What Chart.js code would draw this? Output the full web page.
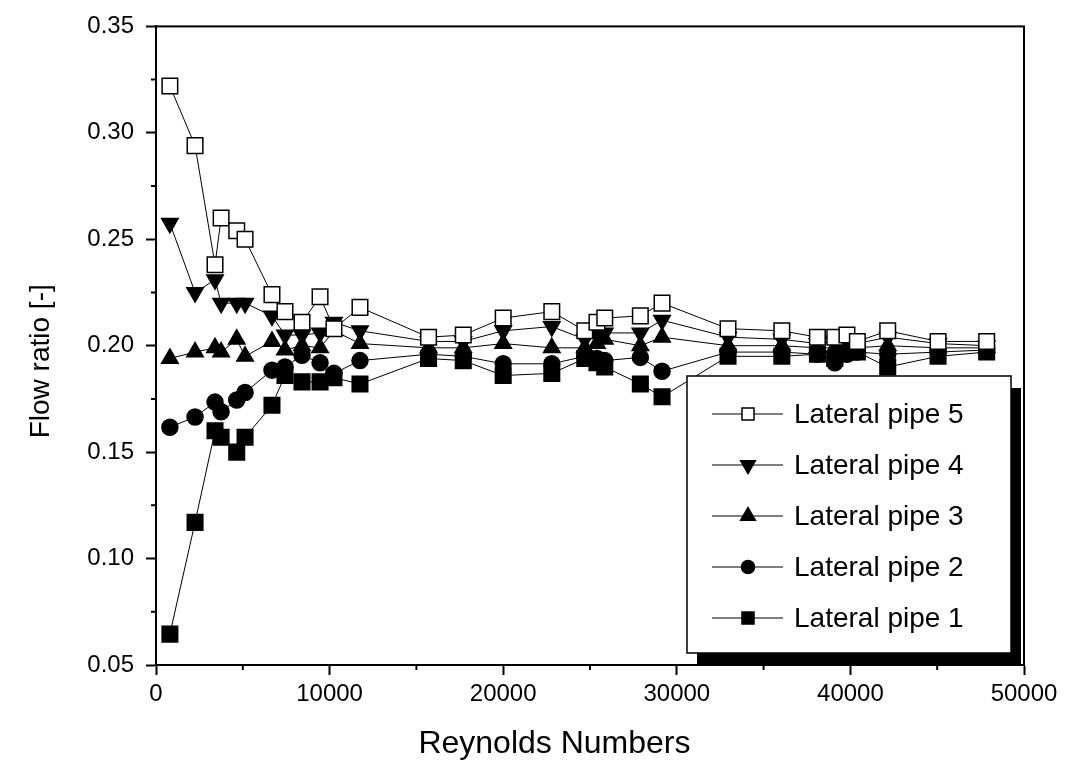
<!DOCTYPE html>
<html>
<head>
<meta charset="utf-8">
<script src="https://cdn.jsdelivr.net/npm/chart.js@4.4.1/dist/chart.umd.min.js"></script>
<style>
  html, body { margin: 0; padding: 0; background: #fff; }
  #wrap { width: 1088px; height: 763px; }
</style>
</head>
<body>
<div id="wrap"><canvas id="flowChart"></canvas></div>
<script>
// Flow ratio of each lateral pipe vs Reynolds number

const reynolds = [800, 2250, 3400, 3750, 4650, 5130, 6680, 7430, 8410, 9450,
  10250, 11750, 15700, 17700, 20000, 22800, 24700, 25400, 25850, 27900,
  29150, 32950, 36050, 38100, 39100, 39800, 40400, 42150, 45050, 47850];

const pipe5 = [0.322, 0.294, 0.238, 0.260, 0.254, 0.250, 0.224, 0.216, 0.211, 0.223,
  0.208, 0.218, 0.204, 0.205, 0.213, 0.216, 0.207, 0.211, 0.213, 0.214,
  0.220, 0.208, 0.207, 0.204, 0.204, 0.205, 0.202, 0.207, 0.202, 0.202];

const pipe4 = [0.2575, 0.225, 0.231, 0.220, 0.220, 0.220, 0.214, 0.205, 0.205, 0.206,
  0.211, 0.207, 0.202, 0.202, 0.207, 0.209, 0.203, 0.205, 0.206, 0.206,
  0.212, 0.204, 0.203, 0.201, 0.202, 0.201, 0.201, 0.204, 0.201, 0.200];

const pipe3 = [0.194, 0.197, 0.199, 0.197, 0.203, 0.195, 0.202, 0.198, 0.200, 0.199,
  0.207, 0.201, 0.199, 0.199, 0.201, 0.199, 0.199, 0.201, 0.203, 0.200,
  0.204, 0.200, 0.200, 0.199, 0.199, 0.199, 0.199, 0.200, 0.199, 0.199];

const pipe2 = [0.1617, 0.1665, 0.1735, 0.169, 0.1745, 0.178, 0.1885, 0.190, 0.1955, 0.192,
  0.187, 0.193, 0.196, 0.195, 0.1915, 0.1915, 0.195, 0.194, 0.193, 0.1945,
  0.188, 0.197, 0.197, 0.196, 0.192, 0.196, 0.197, 0.196, 0.197, 0.198];

const pipe1 = [0.0645, 0.117, 0.160, 0.157, 0.150, 0.157, 0.172, 0.186, 0.183, 0.183,
  0.185, 0.182, 0.194, 0.193, 0.186, 0.187, 0.194, 0.192, 0.190, 0.182,
  0.176, 0.195, 0.195, 0.196, 0.194, 0.197, 0.197, 0.190, 0.195, 0.197];

const seriesNames = ['Lateral pipe 5', 'Lateral pipe 4', 'Lateral pipe 3', 'Lateral pipe 2', 'Lateral pipe 1'];

const xTicks = [0, 10000, 20000, 30000, 40000, 50000];
const xMinorTicks = [5000, 15000, 25000, 35000, 45000];
const yTicks = [0.05, 0.10, 0.15, 0.20, 0.25, 0.30, 0.35];
const yMinorTicks = [0.075, 0.125, 0.175, 0.225, 0.275, 0.325];

const FONT = "'Liberation Sans', Arial, sans-serif";
const NBSP = '\u00a0';

Chart.defaults.font.family = FONT;
Chart.defaults.color = '#000';

function toPoints(values) {
  return reynolds.map((r, i) => ({ x: r, y: values[i] }));
}

function series(label, values, style) {
  return Object.assign({
    label: label,
    data: toPoints(values),
    borderColor: '#000',
    borderWidth: 1,
    backgroundColor: '#000',
    pointBorderColor: '#000',
    pointBorderWidth: 1.5,
    pointHoverRadius: 0,
    showLine: true,
    tension: 0
  }, style);
}

// ============================================================================
// PLUGINS: frame, minor ticks, boxed legend with drop shadow
// ============================================================================

const frameAndMinor = {
  id: 'frameAndMinor',
  afterDraw(chart) {
    const ctx = chart.ctx;
    const a = chart.chartArea;
    const xs = chart.scales.x;
    const ys = chart.scales.y;
    ctx.save();
    ctx.strokeStyle = '#000';
    ctx.lineWidth = 2;
    ctx.strokeRect(a.left, a.top, a.right - a.left, a.bottom - a.top);
    ctx.beginPath();
    xMinorTicks.forEach(v => {
      const px = xs.getPixelForValue(v);
      ctx.moveTo(px, a.bottom);
      ctx.lineTo(px, a.bottom + 5);
    });
    yMinorTicks.forEach(v => {
      const py = ys.getPixelForValue(v);
      ctx.moveTo(a.left - 5, py);
      ctx.lineTo(a.left, py);
    });
    ctx.stroke();
    ctx.restore();
  }
};

const boxLegend = {
  id: 'boxLegend',
  afterDraw(chart) {
    const ctx = chart.ctx;
    const a = chart.chartArea;
    const w = 324, h = 277;
    const x = a.right - 337;
    const y = a.bottom - 289;
    ctx.save();
    ctx.fillStyle = '#000';
    ctx.fillRect(x + 10, y + 12, w, h);
    ctx.fillStyle = '#fff';
    ctx.fillRect(x, y, w, h);
    ctx.strokeStyle = '#000';
    ctx.lineWidth = 1.5;
    ctx.strokeRect(x, y, w, h);

    ctx.font = '28px ' + FONT;
    ctx.textBaseline = 'middle';
    ctx.textAlign = 'left';
    chart.data.datasets.forEach((ds, i) => {
      const cy = y + 38 + i * 51;
      ctx.strokeStyle = '#000';
      ctx.lineWidth = 1;
      ctx.beginPath();
      ctx.moveTo(x + 25, cy);
      ctx.lineTo(x + 96, cy);
      ctx.stroke();
      ctx.fillStyle = ds.pointBackgroundColor || ds.backgroundColor;
      ctx.strokeStyle = '#000';
      ctx.lineWidth = 1.5;
      Chart.helpers.drawPoint(ctx, {
        pointStyle: ds.pointStyle,
        rotation: ds.pointRotation || 0,
        radius: ds.pointStyle === 'circle' ? 6.5 : 8.5,
        borderWidth: 1.5
      }, x + 61, cy);
      ctx.fillStyle = '#000';
      ctx.fillText(ds.label, x + 107, cy + 1);
    });
    ctx.restore();
  }
};

// ============================================================================
// CHART
// ============================================================================

const ctx = document.getElementById('flowChart').getContext('2d');
const flowChart = new Chart(ctx, {
  type: 'line',
  data: {
    datasets: [
      series(seriesNames[0], pipe5, { pointStyle: 'rect', pointRadius: 11, pointBackgroundColor: '#fff', backgroundColor: '#fff' }),
      series(seriesNames[1], pipe4, { pointStyle: 'triangle', pointRotation: 180, pointRadius: 9.5 }),
      series(seriesNames[2], pipe3, { pointStyle: 'triangle', pointRadius: 9.5 }),
      series(seriesNames[3], pipe2, { pointStyle: 'circle', pointRadius: 8 }),
      series(seriesNames[4], pipe1, { pointStyle: 'rect', pointRadius: 11 })
    ]
  },
  options: {
    responsive: true,
    maintainAspectRatio: false,
    animation: false,
    layout: {
      padding: { left: 0, top: 26, right: 64, bottom: 0 }
    },
    plugins: {
      legend: { display: false },
      tooltip: { enabled: false }
    },
    scales: {
      x: {
        type: 'linear',
        min: 0,
        max: 50000,
        afterBuildTicks: s => { s.ticks = xTicks.map(v => ({ value: v })); },
        afterFit: s => { s.height = 98; },
        border: { display: true, color: '#000', width: 2 },
        grid: { drawOnChartArea: false, drawTicks: true, tickLength: 10, tickColor: '#000', tickWidth: 2 },
        ticks: {
          color: '#000',
          padding: 5,
          maxRotation: 0,
          font: { size: 24 },
          callback: v => String(v)
        },
        title: {
          display: true,
          text: 'Reynolds Numbers' + NBSP.repeat(8),
          color: '#000',
          font: { size: 32 },
          padding: { top: 0, bottom: 0 }
        }
      },
      y: {
        min: 0.05,
        max: 0.35,
        afterBuildTicks: s => { s.ticks = yTicks.map(v => ({ value: v })); },
        afterFit: s => { s.width = 156; },
        border: { display: true, color: '#000', width: 2 },
        grid: { drawOnChartArea: false, drawTicks: true, tickLength: 10, tickColor: '#000', tickWidth: 2 },
        ticks: {
          color: '#000',
          padding: 12,
          font: { size: 24 },
          callback: v => Number(v).toFixed(2)
        },
        title: {
          display: true,
          text: 'Flow ratio [-]' + NBSP.repeat(4),
          color: '#000',
          font: { size: 28 },
          padding: { top: 24, bottom: 0 }
        }
      }
    }
  },
  plugins: [frameAndMinor, boxLegend]
});
</script>
</body>
</html>
